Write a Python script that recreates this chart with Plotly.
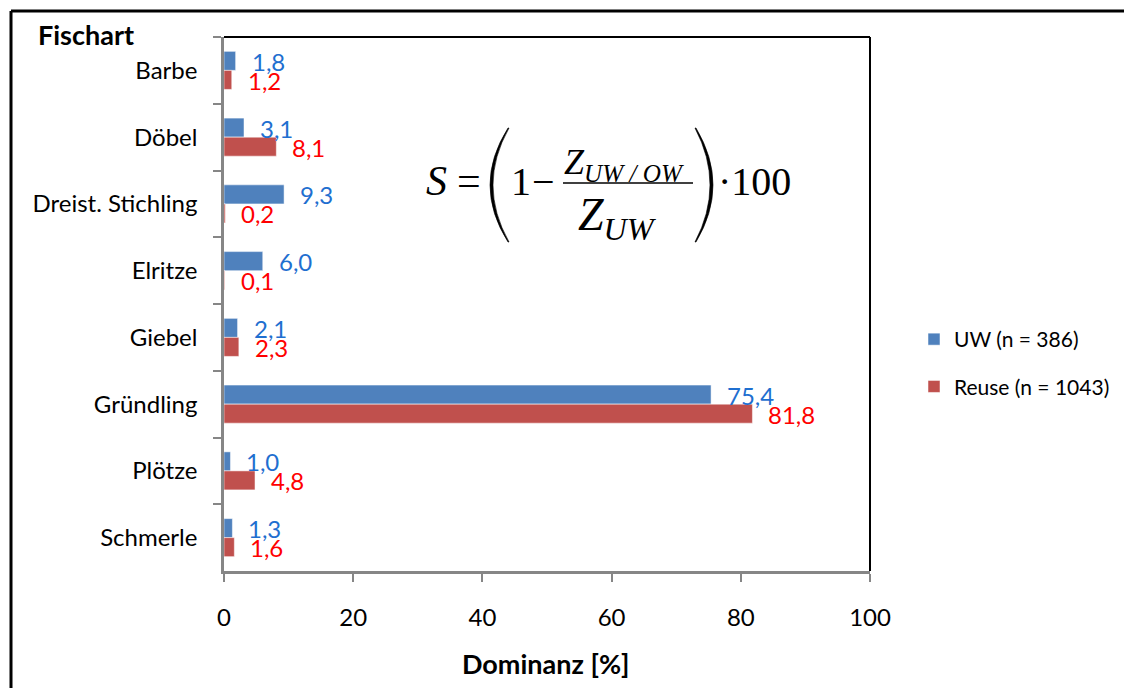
import plotly.graph_objects as go

# ---- data ----
categories = ["Barbe", "Döbel", "Dreist. Stichling", "Elritze", "Giebel",
              "Gründling", "Plötze", "Schmerle"]
uw_values = [1.8, 3.1, 9.3, 6.0, 2.1, 75.4, 1.0, 1.3]
reuse_values = [1.2, 8.1, 0.2, 0.1, 2.3, 81.8, 4.8, 1.6]
series_names = ["UW (n = 386)", "Reuse (n = 1043)"]
x_ticks = [0, 20, 40, 60, 80, 100]

BLUE = "#4F81BD"
RED = "#C0504D"
BLUE_TXT = "#1F6FD0"
RED_TXT = "#FF0000"
FONT = "Lato"
SERIF = "Liberation Serif"

W, H = 1124, 688
L, R, T, B = 224, 254, 37, 117
PW, PH = W - L - R, H - T - B


def px(x):
    return (x - L) / PW


def py(y):
    return (H - B - y) / PH


def fmt(v):
    return f"{v:.1f}".replace(".", ",")


fig = go.Figure()
fig.add_trace(go.Bar(y=categories, x=uw_values, orientation="h", name=series_names[0],
                     marker=dict(color=BLUE, line=dict(color="white", width=0.5)),
                     legendgroup="a"))
fig.add_trace(go.Bar(y=categories, x=reuse_values, orientation="h", name=series_names[1],
                     marker=dict(color=RED, line=dict(color="white", width=0.5)),
                     legendgroup="b"))

annotations = []
for c, v in zip(categories, uw_values):
    annotations.append(dict(x=v, y=c, xref="x", yref="y", text=fmt(v), showarrow=False,
                            xanchor="left", yanchor="middle", xshift=14, yshift=9,
                            font=dict(family=FONT, size=24, color=BLUE_TXT)))
for c, v in zip(categories, reuse_values):
    annotations.append(dict(x=v, y=c, xref="x", yref="y", text=fmt(v), showarrow=False,
                            xanchor="left", yanchor="middle", xshift=14, yshift=-10,
                            font=dict(family=FONT, size=24, color=RED_TXT)))

# titles
annotations.append(dict(x=px(36), y=py(35), xref="paper", yref="paper", text="<b>Fischart</b>",
                        showarrow=False, xanchor="left", yanchor="middle",
                        font=dict(family=FONT, size=27, color="black")))
annotations.append(dict(x=px(546), y=py(663), xref="paper", yref="paper", text="<b>Dominanz [%]</b>",
                        showarrow=False, xanchor="center", yanchor="middle",
                        font=dict(family=FONT, size=27, color="black")))


# formula pieces
def ftext(x, y, text, size, anchor="center"):
    annotations.append(dict(x=px(x), y=py(y), xref="paper", yref="paper", text=text,
                            showarrow=False, xanchor=anchor, yanchor="middle",
                            font=dict(family=SERIF, size=size, color="black")))


ftext(436, 181, "<i>S</i>", 42)
ftext(469, 181, "=", 42)
ftext(521, 181, "1", 40)
ftext(543, 181, "−", 40)
ftext(562, 164, "<i>Z<sub>UW / OW</sub></i>", 36, "left")
ftext(576, 218, "<i>Z<sub>UW</sub></i>", 46, "left")
ftext(716, 181, "·100", 40, "left")

shapes = []
# fraction line
shapes.append(dict(type="line", xref="paper", yref="paper", x0=px(563), x1=px(693),
                   y0=py(183), y1=py(183), line=dict(color="black", width=1.5)))


def paren(xt, xm_out, xm_in, y0, y1, xe):
    yc = (y0 + y1) / 2
    cout = 2 * xm_out - xt
    cin = 2 * xm_in - xe
    p = (f"M {px(xt)},{py(y0)} Q {px(cout)},{py(yc)} {px(xt)},{py(y1)} "
         f"L {px(xe)},{py(y1)} Q {px(cin)},{py(yc)} {px(xe)},{py(y0)} Z")
    return dict(type="path", xref="paper", yref="paper", path=p,
                fillcolor="black", line=dict(color="black", width=0.6))


shapes.append(paren(508, 490, 493, 128, 242, 509))
shapes.append(paren(696, 713, 710, 128, 242, 695))

# plot-area top/right border
shapes.append(dict(type="line", xref="paper", yref="paper", x0=0, x1=1, y0=1, y1=1,
                   line=dict(color="black", width=2)))
shapes.append(dict(type="line", xref="paper", yref="paper", x0=1, x1=1, y0=0, y1=1,
                   line=dict(color="black", width=2)))
# outer frame (top and left)
shapes.append(dict(type="line", xref="paper", yref="paper", x0=px(11), x1=px(1130), y0=py(11), y1=py(11),
                   line=dict(color="black", width=3)))
shapes.append(dict(type="line", xref="paper", yref="paper", x0=px(11), x1=px(11), y0=py(11), y1=py(700),
                   line=dict(color="black", width=3)))

fig.update_layout(
    width=W, height=H,
    margin=dict(l=L, r=R, t=T, b=B, pad=0, autoexpand=False),
    paper_bgcolor="white", plot_bgcolor="white",
    barmode="group", bargap=0.43, bargroupgap=0,
    font=dict(family=FONT, size=24, color="black"),
    showlegend=True,
    legend=dict(x=px(914), y=py(363), xanchor="left", yanchor="middle",
                font=dict(family=FONT, size=21, color="black"),
                traceorder="grouped", tracegroupgap=17, bgcolor="rgba(0,0,0,0)"),
    annotations=annotations,
    shapes=shapes,
)
fig.update_xaxes(range=[0, 100], tickvals=x_ticks, ticktext=[str(t) for t in x_ticks],
                 showgrid=False, zeroline=False, showline=True, linecolor="#868686", linewidth=2.5,
                 ticks="outside", ticklen=8, tickwidth=2, tickcolor="#868686",
                 tickfont=dict(family=FONT, size=24), ticklabelstandoff=15, automargin=False)
fig.update_yaxes(autorange="reversed", type="category", tickson="boundaries",
                 showgrid=False, zeroline=False, showline=True, linecolor="#868686", linewidth=2.5,
                 ticks="outside", ticklen=8, tickwidth=2, tickcolor="#868686",
                 tickfont=dict(family=FONT, size=24), ticklabelstandoff=19, automargin=False)

fig.write_html("out.html")
